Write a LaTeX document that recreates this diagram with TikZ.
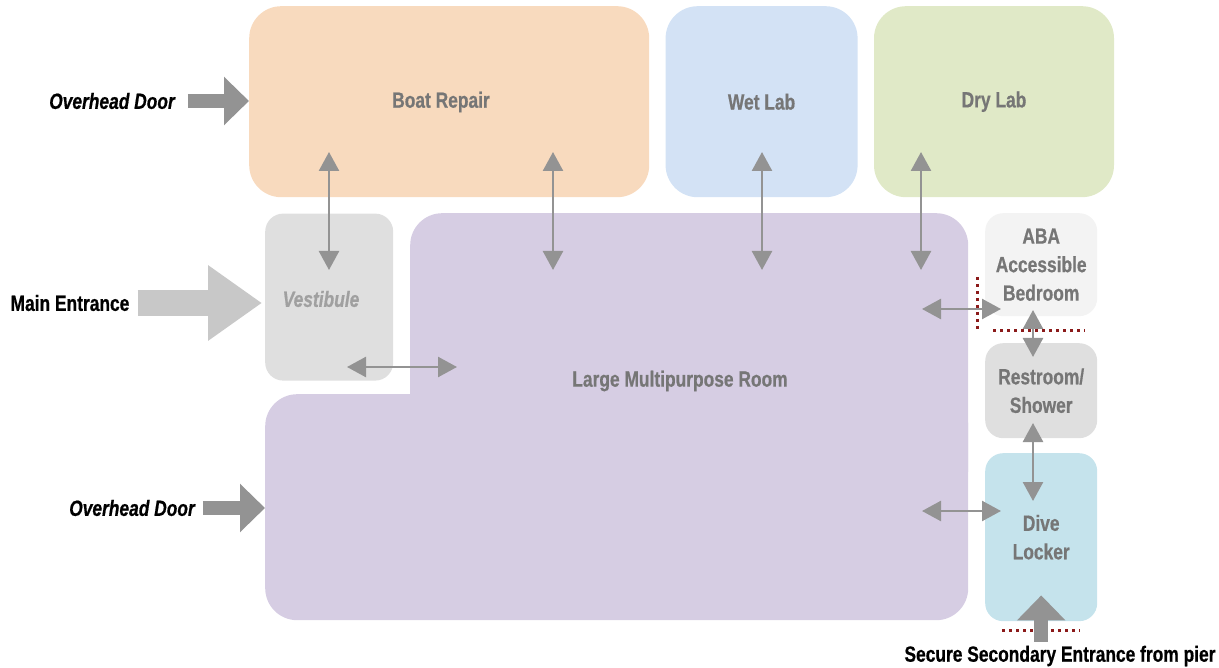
\documentclass[tikz,border=0pt]{standalone}
\usepackage{fontspec}
\setmainfont{Liberation Sans}[FakeStretch=0.79, FakeBold=0.6]
\usetikzlibrary{arrows.meta, positioning}
\definecolor{boatfill}{RGB}{248,218,190}
\definecolor{wetfill}{RGB}{211,226,245}
\definecolor{dryfill}{RGB}{224,233,199}
\definecolor{greyfill}{RGB}{223,223,223}
\definecolor{abafill}{RGB}{243,243,243}
\definecolor{mpfill}{RGB}{214,205,227}
\definecolor{divefill}{RGB}{197,227,236}
\definecolor{arrowgrey}{RGB}{147,147,147}
\definecolor{mainarrow}{RGB}{200,200,200}
\definecolor{labelgrey}{RGB}{118,118,118}
\definecolor{vestgrey}{RGB}{160,160,160}
\definecolor{wallred}{RGB}{139,26,26}
\newcommand{\roomfont}{\bfseries\fontsize{22}{28.5}\selectfont}
\tikzset{%
  >={Triangle[width=20pt,length=19pt]},
  % Specifications for style of nodes:
        room/.style = {rectangle, rounded corners=18pt, inner sep=0pt,
                           text=labelgrey, font=\roomfont, align=center},
        bigroom/.style = {room, rounded corners=32pt},
        caption/.style = {inner sep=0pt, text=black, font=\roomfont},
        captionit/.style = {caption, font=\roomfont\itshape},
        link/.style = {<->, draw=arrowgrey, line width=2.5pt},
        entry/.style = {draw=arrowgrey, line width=14pt,
                           -{Triangle[width=47pt,length=25pt]}},
        mainentry/.style = {draw=mainarrow, line width=26pt,
                           -{Triangle[width=72pt,length=54pt]}},
        wall/.style = {draw=wallred, line width=3pt,
                           dash pattern=on 3pt off 4pt}
}

\begin{document}
\begin{tikzpicture}[x=1pt, y=-1pt]
  \useasboundingbox (0,0) rectangle (1219,668);
  % Specification of rooms (position, etc.)
    \node (boat) [bigroom, fill=boatfill, minimum width=400pt, minimum height=191pt,
                  anchor=north west] at (249,6) {};
    \node (wet)  [bigroom, fill=wetfill, minimum width=192pt, minimum height=191pt,
                  right=16pt of boat] {Wet Lab};
    \node (dry)  [bigroom, fill=dryfill, minimum width=240pt, minimum height=191pt,
                  right=16pt of wet] {Dry Lab};
    \node (vest) [room, fill=greyfill, minimum width=128pt, minimum height=167pt,
                  below right=16pt and 16pt of boat.south west, anchor=north west] {};
    \node (mpup) [bigroom, fill=mpfill, minimum width=558pt, minimum height=287pt,
                  anchor=north west] at (410,213) {};
    \node (mplow) [bigroom, fill=mpfill, minimum width=703pt, minimum height=226pt,
                  anchor=north west] at (265,394) {};
    \node (aba)  [room, fill=abafill, minimum width=112pt, minimum height=103pt,
                  anchor=north west] at (985,213) {ABA\\Accessible\\Bedroom};
    \node (rest) [room, fill=greyfill, minimum width=112pt, minimum height=95pt,
                  anchor=north west] at (985,343) {Restroom/\\Shower};
    \node (dive) [room, fill=divefill, minimum width=112pt, minimum height=168pt,
                  anchor=north west] at (985,453) {Dive\\Locker};
    % room names that sit off centre
    \node (boatlabel) [room] at (441,102) {Boat Repair};
    \node (vestlabel) [room, text=vestgrey, font=\roomfont\itshape] at (321,299) {Vestibule};
    \node (mplabel)   [room] at (680,381) {Large Multipurpose Room};

  % entrances
    \node (ohdtop)  [captionit] at (112,101) {Overhead Door};
    \node (mainent) [caption] at (70,303) {Main Entrance};
    \node (ohdlow)  [captionit] at (132,508) {Overhead Door};
    \node (secure)  [caption] at (1060,656) {Secure Secondary Entrance from pier};

  % ends of the links between rooms
    \coordinate (bvA) at (329,152); \coordinate (bvB) at (329,270);
    \coordinate (bmA) at (553,152); \coordinate (bmB) at (553,270);
    \coordinate (wmA) at (762,152); \coordinate (wmB) at (762,270);
    \coordinate (dmA) at (921,152); \coordinate (dmB) at (921,270);
    \coordinate (vmA) at (347,367); \coordinate (vmB) at (457,367);
    \coordinate (maA) at (922,309); \coordinate (maB) at (1001,309);
    \coordinate (arA) at (1033,310); \coordinate (arB) at (1033,357);
    \coordinate (rdA) at (1033,423); \coordinate (rdB) at (1033,501);
    \coordinate (mdA) at (922,511); \coordinate (mdB) at (1001,511);
    \coordinate (wallA) at (977,277); \coordinate (wallB) at (977,331);
    \coordinate (wallC) at (993,331); \coordinate (wallD) at (1085,331);
    \coordinate (wallE) at (1002,630); \coordinate (wallF) at (1080,630);

  % Specification of lines between rooms
  \draw[link]     (bvA) -- (bvB);
  \draw[link]     (bmA) -- (bmB);
  \draw[link]     (wmA) -- (wmB);
  \draw[link]     (dmA) -- (dmB);
  \draw[link]     (vmA) -- (vmB);
  \draw[link]     (maA) -- (maB);
  \draw[link]     (arA) -- (arB);
  \draw[link]     (rdA) -- (rdB);
  \draw[link]     (mdA) -- (mdB);
  \draw[wall]     (wallA) -- (wallB);
  \draw[wall]     (wallC) -- (wallD);
  \draw[wall]     (wallE) -- (wallF);

  % entrance arrows
  \draw[entry]     ([xshift=13pt]ohdtop.east) -- (ohdtop.east -| boat.west);
  \draw[mainentry] ([xshift=8pt]mainent.east) -- ([xshift=-3pt]mainent.east -| vest.west);
  \draw[entry]     ([xshift=8pt]ohdlow.east) -- (ohdlow.east -| mplow.west);
  \draw[entry]     ([yshift=4pt]secure.north -| dive.south) -- ([yshift=26pt]dive.south);
  \end{tikzpicture}
\end{document}
